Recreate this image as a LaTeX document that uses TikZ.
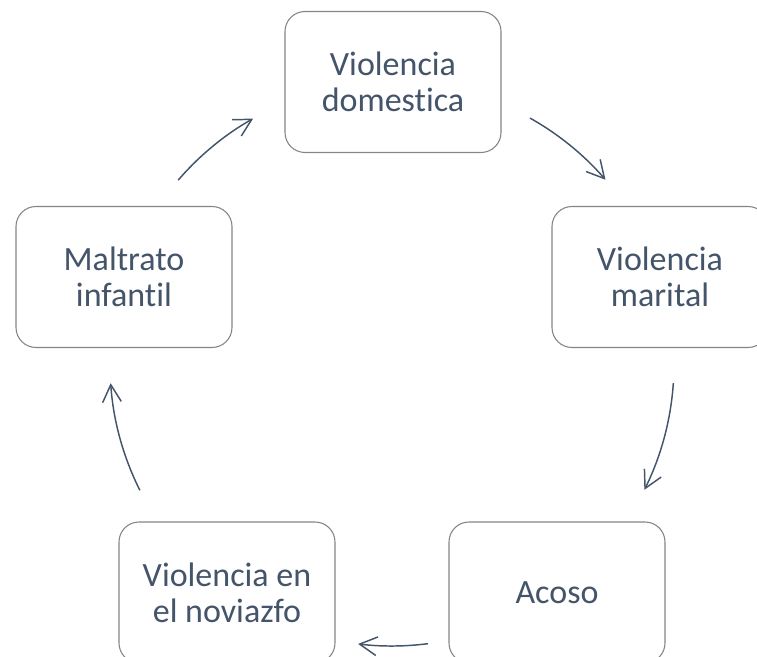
\documentclass[tikz,border=0pt]{standalone}
\usepackage{fontspec}
\setmainfont{Carlito}[Ligatures=NoCommon]
\usepackage{tikz}
\usetikzlibrary{arrows.meta}
\definecolor{slateblue}{HTML}{44546A}
\definecolor{boxgray}{HTML}{858585}

\begin{document}
\begin{tikzpicture}[x=0.75pt, y=0.75pt,
	box/.style={shape=rectangle, rounded corners=15pt, draw=boxgray, line width=0.8pt, fill=white,
		minimum width=162pt, minimum height=105.75pt, align=center, text=slateblue,
		font=\fontsize{25.5pt}{27pt}\selectfont},
	cyc/.style={draw=slateblue, line width=1.1pt, -{Straight Barb[length=13pt,width=14pt]}}]
	
	\useasboundingbox (0, 0) rectangle (757, 657);
	\clip (0, 0) rectangle (757, 657);
	
	\coordinate (ctr) at (392, 293);
	
	\node[box] (dom) at (393, 575)   {Violencia\\domestica};
	\node[box] (mar) at (660, 380)   {Violencia\\marital};
	\node[box] (aco) at (557, 64.5)  {Acoso};
	\node[box] (nov) at (227, 64.5)  {Violencia en\\el noviazfo};
	\node[box] (inf) at (124, 380)   {Maltrato\\infantil};
	
	\path[cyc] (ctr) ++(60.7:211.5pt) arc[start angle=60.7, end angle=40.8, radius=211.5pt];
	\path[cyc] (ctr) ++(-3.9:211.5pt) arc[start angle=-3.9, end angle=-26.5, radius=211.5pt];
	\path[cyc] (ctr) ++(-82.7:211.5pt) arc[start angle=-82.7, end angle=-96.9, radius=211.5pt];
	\path[cyc] (ctr) ++(-153.4:211.5pt) arc[start angle=-153.4, end angle=-176.1, radius=211.5pt];
	\path[cyc] (ctr) ++(139.3:211.5pt) arc[start angle=139.3, end angle=119.5, radius=211.5pt];
	
\end{tikzpicture}
\end{document}
